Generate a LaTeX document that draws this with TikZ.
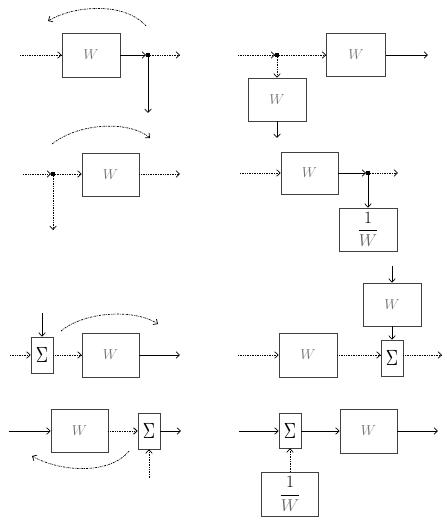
\documentclass[tikz,border=0pt]{standalone}
\usepackage{graphicx}
\usetikzlibrary{arrows.meta}
\tikzset{
  blk/.style={draw=black!75, line width=0.6pt, fill=white, inner sep=0pt,
    minimum width=57pt, minimum height=43pt, font=\Large, text=black!55},
  sig/.style={draw=black!75, line width=0.6pt, fill=white, inner sep=0pt,
    minimum width=22pt, minimum height=36pt},
  sol/.style={line width=0.7pt, -{Straight Barb[length=3.5pt,width=6.5pt]}},
  dotl/.style={sol, densely dotted},
  arcl/.style={sol, dash pattern=on 2pt off 1pt on 0.6pt off 1pt},
  jn/.style={rectangle, fill=black, inner sep=0pt, minimum size=3.5pt},
}
\newcommand{\sigmasym}{\scalebox{1.7}[2.2]{$\Sigma$}}
\newcommand{\invw}{\textcolor{black}{\LARGE$\displaystyle\frac{1}{\textcolor{black!60}{W}}$}}
\begin{document}
\begin{tikzpicture}[x=1pt,y=-1pt]
\useasboundingbox (0,0) rectangle (446,526);

% ---------- Diagram 1 ----------
\coordinate (i1) at (20,55);
\node[blk, minimum width=58pt, minimum height=44pt] (w1) at (91,55) {$W$};
\node[jn] (j1) at (148,55) {};
\coordinate (o1) at (180,55);
\coordinate (d1) at (148,113);
\coordinate (a1s) at (146,26);
\coordinate (a1e) at (48,21);
\draw[dotl] (i1) -- (w1);
\draw[sol] (w1) -- (j1);
\draw[dotl] (j1) -- (o1);
\draw[sol] (j1) -- (d1);
\draw[arcl] (a1s) .. controls (125,2) and (75,5) .. (a1e);

% ---------- Diagram 2 ----------
\coordinate (i2) at (238,55);
\node[jn] (j2) at (277,55) {};
\node[blk, minimum width=59pt] (w2) at (356,55) {$W$};
\node[blk, minimum width=58pt] (w2b) at (277,99.5) {$W$};
\coordinate (o2) at (428,55);
\coordinate (d2) at (277,138);
\draw[dotl] (i2) -- (j2);
\draw[dotl] (j2) -- (w2);
\draw[dotl] (j2) -- (w2b);
\draw[sol] (w2b) -- (d2);
\draw[sol] (w2) -- (o2);

% ---------- Diagram 3 ----------
\coordinate (i3) at (23,174);
\node[jn] (j3) at (53,174) {};
\node[blk] (w3) at (110.5,174.5) {$W$};
\coordinate (o3) at (180,174);
\coordinate (d3) at (53,230);
\coordinate (a3s) at (52,144);
\coordinate (a3e) at (150,138);
\draw[dotl] (i3) -- (j3);
\draw[dotl] (j3) -- (j3 -| w3.west);
\draw[dotl] (j3 -| w3.east) -- (o3);
\draw[dotl] (j3) -- (d3);
\draw[arcl] (a3s) .. controls (80,122) and (130,121) .. (a3e);

% ---------- Diagram 4 ----------
\coordinate (i4) at (240,173);
\node[blk, minimum height=42pt] (w4) at (309.5,173) {$W$};
\node[jn] (j4) at (368,173) {};
\coordinate (o4) at (398,173);
\node[blk, minimum width=58pt] (r4) at (368,229.5) {\invw};
\draw[dotl] (i4) -- (w4);
\draw[sol] (w4) -- (j4);
\draw[dotl] (j4) -- (o4);
\draw[sol] (j4) -- (r4);

% ---------- Diagram 5 ----------
\node[sig] (s5) at (42,355) {\sigmasym};
\coordinate (i5) at (10,355);
\coordinate (t5) at (42,313);
\node[blk, minimum height=44pt] (w5) at (110.5,355) {$W$};
\coordinate (o5) at (180,355);
\coordinate (a5s) at (61,331);
\coordinate (a5e) at (158,324);
\draw[dotl] (i5) -- (s5);
\draw[sol] (t5) -- (s5);
\draw[dotl] (s5) -- (w5);
\draw[sol] (w5) -- (o5);
\draw[arcl] (a5s) .. controls (85,311) and (135,309) .. (a5e);

% ---------- Diagram 6 ----------
\node[blk, minimum width=58pt] (w6t) at (392,304.5) {$W$};
\coordinate (t6) at (392,266);
\node[sig] (s6) at (392,358) {\sigmasym};
\node[blk, minimum width=58pt, minimum height=44pt] (w6) at (308,355) {$W$};
\coordinate (i6) at (238,355);
\coordinate (o6) at (442,355);
\draw[sol] (t6) -- (w6t);
\draw[sol] (w6t) -- (s6);
\draw[dotl] (i6) -- (w6);
\draw[dotl] (w6) -- (w6.east -| s6.west);
\draw[dotl] (w6.east -| s6.east) -- (o6);

% ---------- Diagram 7 ----------
\node[blk] (w7) at (79.5,431) {$W$};
\coordinate (i7) at (9,431);
\node[sig] (s7) at (149,431) {\sigmasym};
\coordinate (o7) at (181,431);
\coordinate (b7) at (149,478);
\coordinate (a7s) at (129,451);
\coordinate (a7e) at (32,456);
\draw[sol] (i7) -- (w7);
\draw[dotl, line width=0.9pt] (w7) -- (s7);
\draw[sol] (s7) -- (o7);
\draw[dotl] (b7) -- (s7);
\draw[arcl] (a7s) .. controls (110,475) and (60,472) .. (a7e);

% ---------- Diagram 8 ----------
\node[sig, minimum height=35pt] (s8) at (290,430.5) {\sigmasym};
\coordinate (i8) at (239,431);
\node[blk, minimum height=44pt] (w8) at (368.5,431) {$W$};
\coordinate (o8) at (438,431);
\node[blk, minimum height=44pt] (r8) at (290,494) {\invw};
\draw[sol] (i8) -- (i8 -| s8.west);
\draw[sol] (i8 -| s8.east) -- (w8);
\draw[sol] (w8) -- (o8);
\draw[dotl] (r8) -- (s8);
\end{tikzpicture}
\end{document}
